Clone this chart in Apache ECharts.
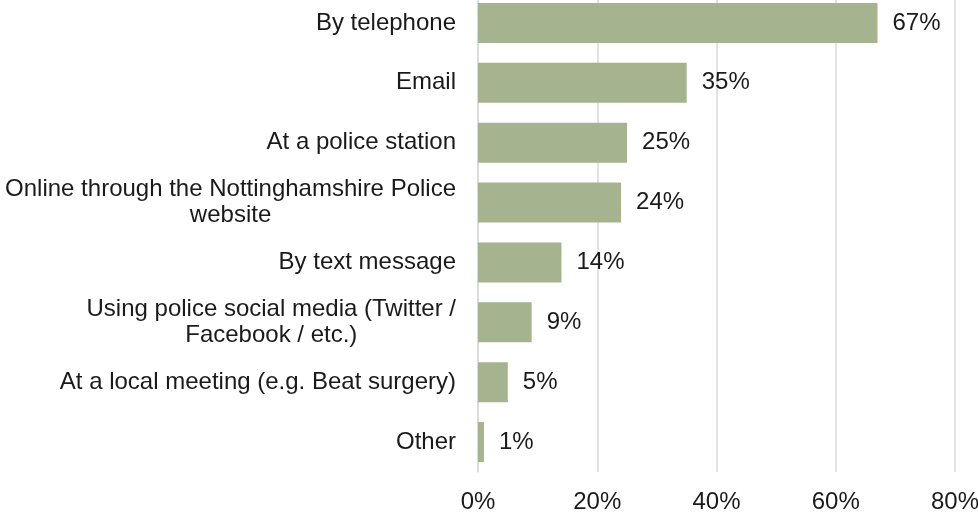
<!doctype html>
<html>
<head>
<meta charset="UTF-8">
<title>Contact methods</title>
<script src="https://cdn.jsdelivr.net/npm/echarts@6/dist/echarts.min.js"></script>
<style>
  html, body { margin: 0; padding: 0; background: #fff; }
  #main { width: 978px; height: 515px; }
</style>
</head>
<body>
<div id="main"></div>
<script>
// categories, top to bottom
var categories = [
  'By telephone',
  'Email',
  'At a police station',
  'Online through the Nottinghamshire Police\nwebsite',
  'By text message',
  'Using police social media (Twitter /\nFacebook / etc.)',
  'At a local meeting (e.g. Beat surgery)',
  'Other'
];
var values = [67, 35, 25, 24, 14, 9, 5, 1];
var xTicks = [0, 20, 40, 60, 80];

var myChart = echarts.init(document.getElementById('main'));

var option = {
  animation: false,
  textStyle: { fontFamily: 'Liberation Sans, Arial, sans-serif' },
  grid: { left: 478, right: 23, top: -7, height: 479, outerBoundsMode: 'none', containLabel: false },
  xAxis: {
    type: 'value',
    min: xTicks[0],
    max: xTicks[xTicks.length - 1],
    interval: 20,
    axisLine: { show: false },
    axisTick: { show: false },
    splitLine: { lineStyle: { color: '#d9d9d9', width: 1.5 } },
    axisLabel: {
      margin: 18,
      fontSize: 24,
      color: '#1a1a1a',
      formatter: '{value}%'
    }
  },
  yAxis: {
    type: 'category',
    inverse: true,
    data: categories,
    axisLine: { show: true, lineStyle: { color: '#d9d9d9', width: 1.5 } },
    axisTick: { show: false },
    axisLabel: {
      margin: 22,
      fontSize: 24,
      color: '#1a1a1a',
      lineHeight: 26,
      formatter: function (v) {
        return v.split('\n').map(function (s) { return '{c|' + s + '}'; }).join('\n');
      },
      rich: {
        c: { align: 'center', fontSize: 24, lineHeight: 26, color: '#1a1a1a' }
      }
    }
  },
  series: [{
    type: 'bar',
    data: values,
    barWidth: 40,
    itemStyle: { color: '#a5b38f' },
    label: {
      show: true,
      position: 'right',
      distance: 15,
      fontSize: 24,
      color: '#1a1a1a',
      formatter: '{c}%'
    }
  }]
};

myChart.setOption(option);
</script>
</body>
</html>
